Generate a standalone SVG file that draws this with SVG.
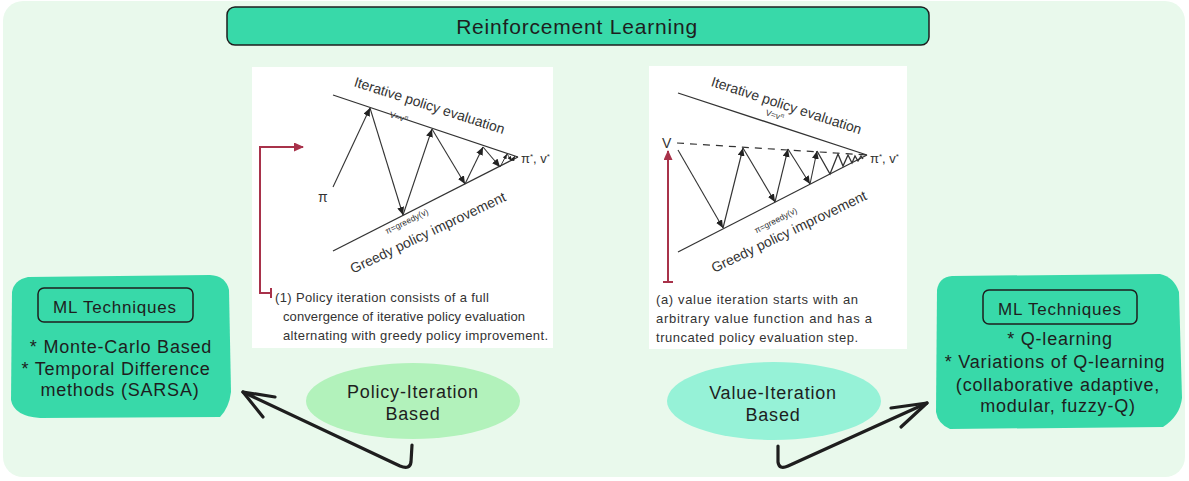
<svg xmlns="http://www.w3.org/2000/svg" width="1189" height="481" viewBox="0 0 1189 481">
<style>
.hand{font-family:"Liberation Sans","DejaVu Sans",sans-serif;fill:#1e1e1e;letter-spacing:0.8px}
.fig{font-family:"Liberation Sans","DejaVu Sans",sans-serif;fill:#333}
.cap{font-size:13px}
.fl{stroke:#333;stroke-width:1.3;fill:none}
.fa{stroke:#333;stroke-width:1.1;fill:none;marker-end:url(#ah)}
.fs{stroke:#333;stroke-width:1;fill:none;marker-end:url(#ahs)}
.red{stroke:#a8324a;stroke-width:2;fill:none}
.conn{stroke:#1e1e1e;stroke-width:3.2;fill:none;stroke-linecap:round;stroke-linejoin:round}
.teal{fill:#38d9a9}
.inner{fill:none;stroke:#1e1e1e;stroke-width:1.5}
</style>
<defs>
<marker id="ah" markerUnits="userSpaceOnUse" markerWidth="8" markerHeight="7" refX="8" refY="3.5" orient="auto"><path d="M0,0 L8,3.5 L0,7 z" fill="#222"/></marker>
<marker id="ahs" markerUnits="userSpaceOnUse" markerWidth="5" markerHeight="4" refX="5" refY="2" orient="auto"><path d="M0,0 L5,2 L0,4 z" fill="#222"/></marker>
<marker id="rah" markerUnits="userSpaceOnUse" markerWidth="10" markerHeight="9" refX="9" refY="4.5" orient="auto"><path d="M0,0 L10,4.5 L0,9 z" fill="#a8324a"/></marker>
</defs>
<rect x="0" y="0" width="1189" height="481" fill="#ffffff"/>
<rect x="3" y="1" width="1182" height="476" rx="20" fill="#e9f9ec"/>

<g id="title">
<rect x="227" y="7" width="702" height="38" rx="8" class="teal" stroke="#1e1e1e" stroke-width="1.5"/>
<text x="577" y="34" text-anchor="middle" class="hand" font-size="21">Reinforcement Learning</text>
</g>

<g id="panel-policy">
<rect x="252" y="67" width="301" height="281" fill="#ffffff"/>
<line x1="333" y1="95" x2="518" y2="157" class="fl"/>
<line x1="333" y1="251" x2="518" y2="157" class="fl"/>
<text class="fig" font-size="14" text-anchor="middle" transform="translate(428,110) rotate(17.8)">Iterative policy evaluation</text>
<text class="fig" font-size="8.5" text-anchor="middle" transform="translate(398,120) rotate(18)">V=v<tspan font-size="6" baseline-shift="super">π</tspan></text>
<text class="fig" font-size="14" text-anchor="middle" transform="translate(430,237) rotate(-25.5)">Greedy policy improvement</text>
<text class="fig" font-size="8.5" text-anchor="middle" transform="translate(408,224) rotate(-26)">π=greedy(v)</text>
<text class="fig" font-size="14" x="318" y="202">π</text>
<text class="fig" font-size="13" x="521" y="163">π<tspan font-size="8" baseline-shift="super">*</tspan>, v<tspan font-size="8" baseline-shift="super">*</tspan></text>
<line x1="333" y1="187" x2="370" y2="108" class="fa"/>
<line x1="370" y1="108" x2="403" y2="215" class="fa"/>
<line x1="403" y1="215" x2="432" y2="129" class="fa"/>
<line x1="432" y1="129" x2="465" y2="184" class="fa"/>
<line x1="465" y1="184" x2="483" y2="147" class="fa"/>
<line x1="483" y1="147" x2="500" y2="167" class="fa"/>
<line x1="500" y1="167" x2="507" y2="154" class="fs"/>
<line x1="507" y1="154" x2="512" y2="161" class="fs"/>
<line x1="512" y1="161" x2="515" y2="156" class="fs"/>
<path d="M271,293 H260 V147 H303" class="red" marker-end="url(#rah)"/>
<line x1="271" y1="288" x2="271" y2="298" class="red"/>
<text class="fig cap" x="275" y="302" textLength="214" lengthAdjust="spacing">(1) Policy iteration consists of a full</text>
<text class="fig cap" x="283" y="321" textLength="242" lengthAdjust="spacing">convergence of iterative policy evaluation</text>
<text class="fig cap" x="283" y="340" textLength="265" lengthAdjust="spacing">alternating with greedy policy improvement.</text>
</g>

<g id="panel-value">
<rect x="649" y="66" width="258" height="283" fill="#ffffff"/>
<line x1="678" y1="93" x2="867" y2="155" class="fl"/>
<line x1="678" y1="252" x2="867" y2="155" class="fl"/>
<line x1="677" y1="143" x2="867" y2="155" stroke="#333" stroke-width="1.2" stroke-dasharray="7,6"/>
<text class="fig" font-size="14" text-anchor="middle" transform="translate(785,110) rotate(18)">Iterative policy evaluation</text>
<text class="fig" font-size="8.5" text-anchor="middle" transform="translate(774,118) rotate(18)">V=v<tspan font-size="6" baseline-shift="super">π</tspan></text>
<text class="fig" font-size="14" text-anchor="middle" transform="translate(791,236) rotate(-25.7)">Greedy policy improvement</text>
<text class="fig" font-size="8.5" text-anchor="middle" transform="translate(777,223) rotate(-27)">π=greedy(v)</text>
<text class="fig" font-size="14" x="662" y="148">V</text>
<text class="fig" font-size="13" x="870" y="163">π<tspan font-size="8" baseline-shift="super">*</tspan>, v<tspan font-size="8" baseline-shift="super">*</tspan></text>
<line x1="678" y1="150" x2="723" y2="228" class="fa"/>
<line x1="723" y1="228" x2="743" y2="148" class="fa"/>
<line x1="743" y1="148" x2="775" y2="202" class="fa"/>
<line x1="775" y1="202" x2="788" y2="149" class="fa"/>
<line x1="788" y1="149" x2="810" y2="184" class="fa"/>
<line x1="810" y1="184" x2="817" y2="151" class="fa"/>
<polyline points="817,151 830,174 838,154 843,166 848,155 852,163 855,156 858,161 861,156 863,159" class="fl" stroke-width="1"/>
<line x1="668" y1="282" x2="668" y2="151" class="red" marker-end="url(#rah)"/>
<line x1="663" y1="282" x2="673" y2="282" class="red"/>
<text class="fig cap" x="656" y="304" textLength="202" lengthAdjust="spacing">(a) value iteration starts with an</text>
<text class="fig cap" x="656" y="323" textLength="216" lengthAdjust="spacing">arbitrary value function and has a</text>
<text class="fig cap" x="656" y="342" textLength="202" lengthAdjust="spacing">truncated policy evaluation step.</text>
</g>

<g id="ml-left">
<path d="M12,292 Q14,280 28,277 L210,275 Q226,276 229,290 L231,392 Q229,408 220,417 L40,418 Q14,416 11,400 Z" class="teal"/>
<rect x="38" y="288" width="155" height="34" rx="6" class="inner"/>
<text x="115" y="313" text-anchor="middle" class="hand" font-size="17">ML Techniques</text>
<text x="121" y="353" text-anchor="middle" class="hand" font-size="18">* Monte-Carlo Based</text>
<text x="116" y="375" text-anchor="middle" class="hand" font-size="18">* Temporal Difference</text>
<text x="120" y="396" text-anchor="middle" class="hand" font-size="18">methods (SARSA)</text>
</g>

<g id="ml-right">
<path d="M937,290 Q939,277 952,276 L1160,274 Q1174,277 1179,292 L1182,398 Q1180,416 1163,427 L950,429 Q938,424 936,412 Z" class="teal"/>
<rect x="983" y="290" width="154" height="34" rx="6" class="inner"/>
<text x="1060" y="315" text-anchor="middle" class="hand" font-size="17">ML Techniques</text>
<text x="1060" y="345" text-anchor="middle" class="hand" font-size="18">* Q-learning</text>
<text x="1055" y="368" text-anchor="middle" class="hand" font-size="18">* Variations of Q-learning</text>
<text x="1058" y="391" text-anchor="middle" class="hand" font-size="18">(collaborative adaptive,</text>
<text x="1058" y="412" text-anchor="middle" class="hand" font-size="18">modular, fuzzy-Q)</text>
</g>

<g id="policy-iteration">
<ellipse cx="413" cy="401" rx="107" ry="38" fill="#b2f2bb"/>
<text x="413" y="398" text-anchor="middle" class="hand" font-size="18">Policy-Iteration</text>
<text x="413" y="420" text-anchor="middle" class="hand" font-size="18">Based</text>
</g>

<g id="value-iteration">
<ellipse cx="774" cy="401" rx="107" ry="39" fill="#96f2d7"/>
<text x="773" y="399" text-anchor="middle" class="hand" font-size="18">Value-Iteration</text>
<text x="773" y="421" text-anchor="middle" class="hand" font-size="18">Based</text>
</g>

<g id="connectors">
<path d="M412,445 L411,462 Q410,470 400,466 L243,392" class="conn"/>
<path d="M275,397 L243,392 L263,417" class="conn"/>
<path d="M778,446 L778,462 Q779,470 788,466 L927,403" class="conn"/>
<path d="M891,408 L927,403 L901,427" class="conn"/>
</g>
</svg>
